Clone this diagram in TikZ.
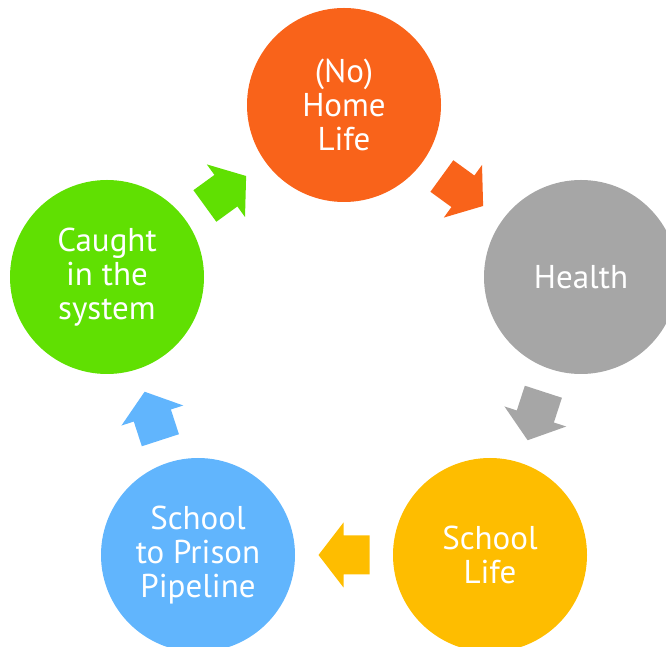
\documentclass[tikz,border=0pt]{standalone}
\usepackage{fontspec}
\setmainfont{PT Sans}
\usetikzlibrary{calc}
\definecolor{cOrange}{HTML}{F9631A}
\definecolor{cGray}{HTML}{A6A6A6}
\definecolor{cGold}{HTML}{FEBD00}
\definecolor{cBlue}{HTML}{61B5FD}
\definecolor{cGreen}{HTML}{60E002}
\tikzset{
  x=1pt, y=1pt,
  stage/.style={circle, minimum size=194pt, inner sep=0pt, text=white,
    align=center, font=\fontsize{33}{34}\selectfont},
  blockarrow/.pic={\fill[#1] (25.5,0) -- (0.5,32.5) -- (0.5,19.5) -- (-25.5,19.5)
     -- (-25.5,-19.5) -- (0.5,-19.5) -- (0.5,-32.5) -- cycle;}
}
\begin{document}
\begin{tikzpicture}
\useasboundingbox (0,0) rectangle (666,647);
\clip (0,0) rectangle (666,647);
\node[stage, fill=cOrange] (home) at (344,542) {(No)\\Home\\Life};
\node[stage, fill=cGray] (health) at (581,370) {Health};
\node[stage, fill=cGold] (school) at (490,92) {School\\Life};
\node[stage, fill=cBlue] (prison) at (198,92) {School\\to Prison\\Pipeline};
\node[stage, fill=cGreen] (caught) at (107,370) {Caught\\in the\\system};
\pic[rotate=-36] at ($(home.center)!0.5!(health.center)$) {blockarrow=cOrange};
\pic[rotate=-108] at ($(health.center)!0.5!(school.center)$) {blockarrow=cGray};
\pic[rotate=180] at ($(school.center)!0.5!(prison.center)$) {blockarrow=cGold};
\pic[rotate=108] at ($(prison.center)!0.5!(caught.center)$) {blockarrow=cBlue};
\pic[rotate=36] at ($(caught.center)!0.5!(home.center)$) {blockarrow=cGreen};
\end{tikzpicture}
\end{document}
